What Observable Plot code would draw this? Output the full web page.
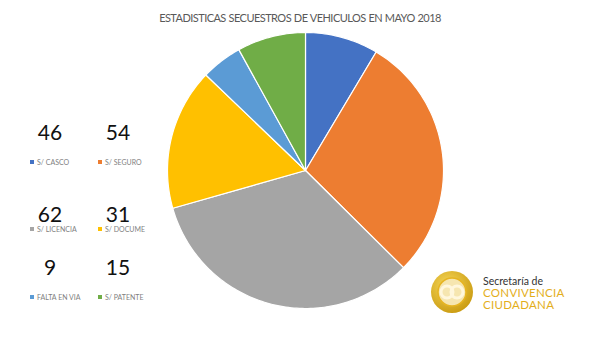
<!DOCTYPE html>
<html>
<head>
<meta charset="utf-8">
<script src="https://cdn.jsdelivr.net/npm/d3@7"></script>
<script src="https://cdn.jsdelivr.net/npm/@observablehq/plot@0.6"></script>
<style>
  html, body { margin: 0; padding: 0; background: #fff; }
  #wrap { position: relative; width: 600px; height: 337px; overflow: hidden; font-family: Lato, "Open Sans", sans-serif; }
  #title { position: absolute; left: 0; width: 600px; top: 11px; text-align: center; font-size: 11px; color: #595959; letter-spacing: -0.55px; word-spacing: 0.5px; line-height: 13px; }
  #pie { position: absolute; left: 165px; top: 30px; }
  .num { position: absolute; width: 60px; text-align: center; font-size: 21px; color: #111; line-height: 16px; }
  .lab { position: absolute; font-size: 7px; color: #7f7f7f; white-space: nowrap; line-height: 8px; }
  .lab span { display: inline-block; width: 4px; height: 4px; margin-right: 3px; vertical-align: 1px; }
  #logo { position: absolute; left: 428px; top: 268px; }
</style>
</head>
<body>
<div id="wrap">
  <div id="title">ESTADISTICAS SECUESTROS DE VEHICULOS EN MAYO 2018</div>
  <div id="pie"></div>
  <div id="panel"></div>
  <div id="logo"></div>
</div>
<script>
// Categories in pie order (clockwise from 12 o'clock)
const categories = ["S/ CASCO", "S/ SEGURO", "S/ LICENCIA", "S/ DOCUME", "FALTA EN VIA", "S/ PATENTE"];
// Values as drawn by the pie slices
const sliceValues = [16, 54, 62, 31, 9, 15];
// Numbers printed in the left panel
const labelValues = [46, 54, 62, 31, 9, 15];
const colors = ["#4472C4", "#ED7D31", "#A5A5A5", "#FFC000", "#5B9BD5", "#70AD47"];

// Build slice polygons from d3.pie angles
const arcs = d3.pie().sort(null).startAngle(0).endAngle(2 * Math.PI)(sliceValues);
const pts = [];
arcs.forEach((a, i) => {
  const cat = categories[i];
  pts.push({cat, x: 0, y: 0});
  const n = Math.max(4, Math.ceil((a.endAngle - a.startAngle) / 0.02));
  for (let k = 0; k <= n; k++) {
    const t = a.startAngle + (a.endAngle - a.startAngle) * k / n;
    pts.push({cat, x: Math.sin(t), y: Math.cos(t)});
  }
  pts.push({cat, x: 0, y: 0});
});

const size = 280, m = 2;
const chart = Plot.plot({
  width: size, height: size,
  margin: m,
  x: {domain: [-1, 1], axis: null},
  y: {domain: [-1, 1], axis: null},
  color: {domain: categories, range: colors},
  marks: [
    Plot.line(pts, {x: "x", y: "y", z: "cat", fill: "cat", stroke: "white", strokeWidth: 1.2, strokeLinejoin: "round", curve: "linear"})
  ]
});
document.getElementById("pie").appendChild(chart);

// Left panel: numbers and legend keys
const panel = document.getElementById("panel");
const colX = [20, 88];
const numY = [124, 206, 259];
const labY = [158, 225, 293];
const labX = [30, 98];
categories.forEach((c, i) => {
  const col = i % 2, row = Math.floor(i / 2);
  const nd = document.createElement("div");
  nd.className = "num";
  nd.style.left = colX[col] + "px";
  nd.style.top = numY[row] + "px";
  nd.textContent = labelValues[i];
  panel.appendChild(nd);
  const ld = document.createElement("div");
  ld.className = "lab";
  ld.style.left = labX[col] + "px";
  ld.style.top = labY[row] + "px";
  ld.innerHTML = `<span style="background:${colors[i]}"></span>${c}`;
  panel.appendChild(ld);
});

// Logo
document.getElementById("logo").innerHTML = `
<svg width="170" height="50" xmlns="http://www.w3.org/2000/svg">
  <defs>
    <radialGradient id="g" cx="40%" cy="35%" r="70%">
      <stop offset="0%" stop-color="#f7d85a"/>
      <stop offset="100%" stop-color="#c99a10"/>
    </radialGradient>
  </defs>
  <circle cx="24" cy="24" r="21" fill="url(#g)"/>
  <circle cx="24" cy="24" r="14" fill="#f6e6b0" stroke="#e6b422" stroke-width="1.5"/>
  <circle cx="19" cy="24" r="6" fill="none" stroke="#fff7dd" stroke-width="3"/>
  <circle cx="29" cy="24" r="6" fill="none" stroke="#fff7dd" stroke-width="3"/>
  <text x="55" y="17" font-family="Lato, sans-serif" font-size="10.5" fill="#333">Secretaría de</text>
  <text x="55" y="29" font-family="Lato, sans-serif" font-size="11.5" fill="#E3AE1A" letter-spacing="0.3">CONVIVENCIA</text>
  <text x="55" y="40.5" font-family="Lato, sans-serif" font-size="11.5" fill="#E3AE1A" letter-spacing="0.3">CIUDADANA</text>
</svg>`;
</script>
</body>
</html>
